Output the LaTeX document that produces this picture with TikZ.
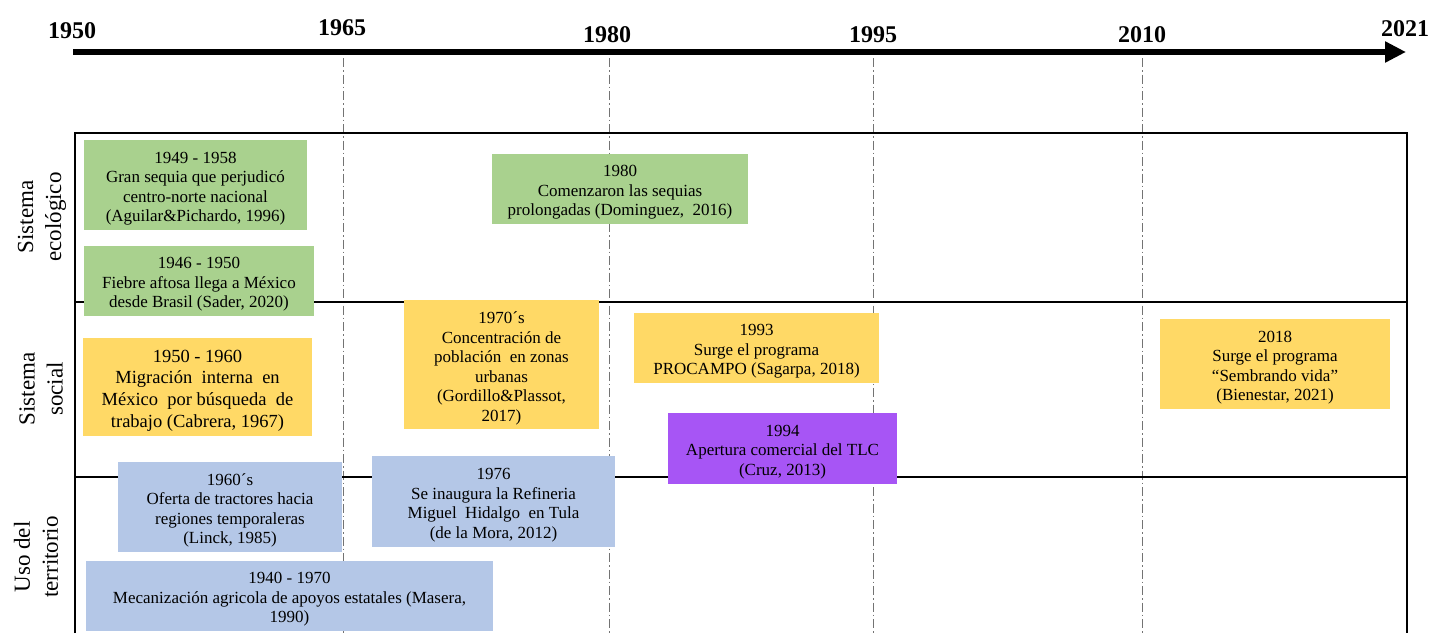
\documentclass[tikz,border=0pt]{standalone}
\usepackage{fontspec}
\setmainfont{Liberation Serif}
\usetikzlibrary{arrows.meta}
\definecolor{gr}{RGB}{169,209,142}
\definecolor{ye}{RGB}{255,217,102}
\definecolor{bl}{RGB}{180,199,231}
\definecolor{pu}{RGB}{167,85,245}
\begin{document}
\begin{tikzpicture}[x=1pt,y=-1pt,
 evshape/.style={inner sep=0pt, draw=none},
 evbox/.style={inner sep=0pt, align=center, font=\fontsize{17}{19.5}\selectfont},
 bigbox/.style={inner sep=0pt, align=center, font=\fontsize{18.5}{21.7}\selectfont},
 yearlbl/.style={font=\fontsize{24}{28}\selectfont\bfseries, anchor=base, inner sep=0pt},
 sidelbl/.style={rotate=90, align=center, inner sep=0pt, font=\fontsize{23}{28}\selectfont},
 frameline/.style={line width=1.1pt},
 guide/.style={black!55, line width=0.8pt, dash pattern=on 9pt off 3pt on 1.5pt off 3pt}]
\useasboundingbox (0,0) rectangle (1434,633);

% guides
\foreach \n/\x in {a/343,b/609,c/873,d/1142}{
  \coordinate (g\n t) at (\x,58);
  \coordinate (g\n b) at (\x,633);
  \draw[guide] (g\n t) -- (g\n b);
}

% frame
\coordinate (fTL) at (75,133);
\coordinate (fTR) at (1407,133);
\coordinate (fBL) at (75,633);
\coordinate (fBR) at (1407,633);
\coordinate (h1L) at (75,302);
\coordinate (h1R) at (1407,302);
\coordinate (h2L) at (75,477);
\coordinate (h2R) at (1407,477);
\draw[frameline] (fBL) -- (fTL) -- (fTR) -- (fBR);
\draw[frameline] (h1L) -- (h1R);
\draw[frameline] (h2L) -- (h2R);

% axis
\coordinate (axL) at (73,52);
\coordinate (axR) at (1406,52);
\draw[line width=6.5pt, -{Triangle[length=21pt,width=20pt]}] (axL) -- (axR);

\node[yearlbl] (y1950) at (72,38) {1950};
\node[yearlbl] (y1965) at (342,35) {1965};
\node[yearlbl] (y1980) at (607,42) {1980};
\node[yearlbl] (y1995) at (873,42) {1995};
\node[yearlbl] (y2010) at (1142,42) {2010};
\node[yearlbl] (y2021) at (1405,36) {2021};

% side labels
\node[sidelbl] (s1) at (42,217) {Sistema\\ecológico};
\node[sidelbl] (s2) at (41,389) {Sistema\\social};
\node[sidelbl] (s3) at (36,557) {Uso del\\territorio};

% event boxes
\node[evshape, fill=gr, minimum width=223pt, minimum height=90pt] (e1) at (195.5,185) {};
\node[evshape, fill=gr, minimum width=230pt, minimum height=70pt] (e2) at (199,281) {};
\node[evshape, fill=gr, minimum width=256pt, minimum height=70pt] (e3) at (620,189) {};
\node[evshape, fill=ye, minimum width=229pt, minimum height=98pt] (e4) at (197.5,387) {};
\node[evshape, fill=ye, minimum width=195pt, minimum height=129pt] (e5) at (501.5,364.5) {};
\node[evshape, fill=ye, minimum width=245pt, minimum height=70pt] (e6) at (756.5,348) {};
\node[evshape, fill=pu, minimum width=229pt, minimum height=71pt] (e7) at (782.5,448.5) {};
\node[evshape, fill=ye, minimum width=230pt, minimum height=90pt] (e8) at (1275,364) {};
\node[evshape, fill=bl, minimum width=224pt, minimum height=90pt] (e9) at (230,507) {};
\node[evshape, fill=bl, minimum width=407pt, minimum height=70pt] (e10) at (289.5,596) {};
\node[evshape, fill=bl, minimum width=243pt, minimum height=91pt] (e11) at (493.5,501.5) {};

% event texts
\node[evbox] (t1) at ([yshift=-3.5pt]e1.center)
  {1949 - 1958\\Gran sequia que perjudicó\\centro-norte nacional\\(Aguilar\&Pichardo, 1996)};
\node[evbox] (t2) at ([yshift=-3.5pt]e2.center)
  {1946 - 1950\\Fiebre aftosa llega a México\\desde Brasil (Sader, 2020)};
\node[evbox] (t3) at ([yshift=-3.5pt]e3.center)
  {1980\\Comenzaron las sequias\\prolongadas (Dominguez,\ \ 2016)};
\node[bigbox] (t4) at ([yshift=-3.5pt]e4.center)
  {1950 - 1960\\Migración\ \ interna\ \ en\\México\ \ por búsqueda\ \ de\\trabajo\ (Cabrera, 1967)};
\node[evbox] (t5) at ([yshift=-4pt]e5.center)
  {1970´s\\Concentración de\\población\ \ en zonas\\urbanas\\(Gordillo\&Plassot,\\2017)};
\node[evbox] (t6) at ([yshift=-3.5pt]e6.center)
  {1993\\Surge el programa\\PROCAMPO (Sagarpa, 2018)};
\node[evbox] (t7) at ([yshift=-3.5pt]e7.center)
  {1994\\Apertura comercial del TLC\\(Cruz, 2013)};
\node[evbox] (t8) at ([yshift=-3.5pt]e8.center)
  {2018\\Surge el programa\\“Sembrando vida”\\(Bienestar, 2021)};
\node[evbox] (t9) at ([yshift=-3.5pt]e9.center)
  {1960´s\\Oferta de tractores hacia\\regiones temporaleras\\(Linck, 1985)};
\node[evbox] (t10) at ([yshift=-3.5pt]e10.center)
  {1940 - 1970\\Mecanización agricola de apoyos estatales (Masera,\\1990)};
\node[evbox] (t11) at ([yshift=-3.5pt]e11.center)
  {1976\\Se inaugura la Refineria\\Miguel\ \ Hidalgo\ \ en Tula\\(de la Mora, 2012)};
\end{tikzpicture}
\end{document}
